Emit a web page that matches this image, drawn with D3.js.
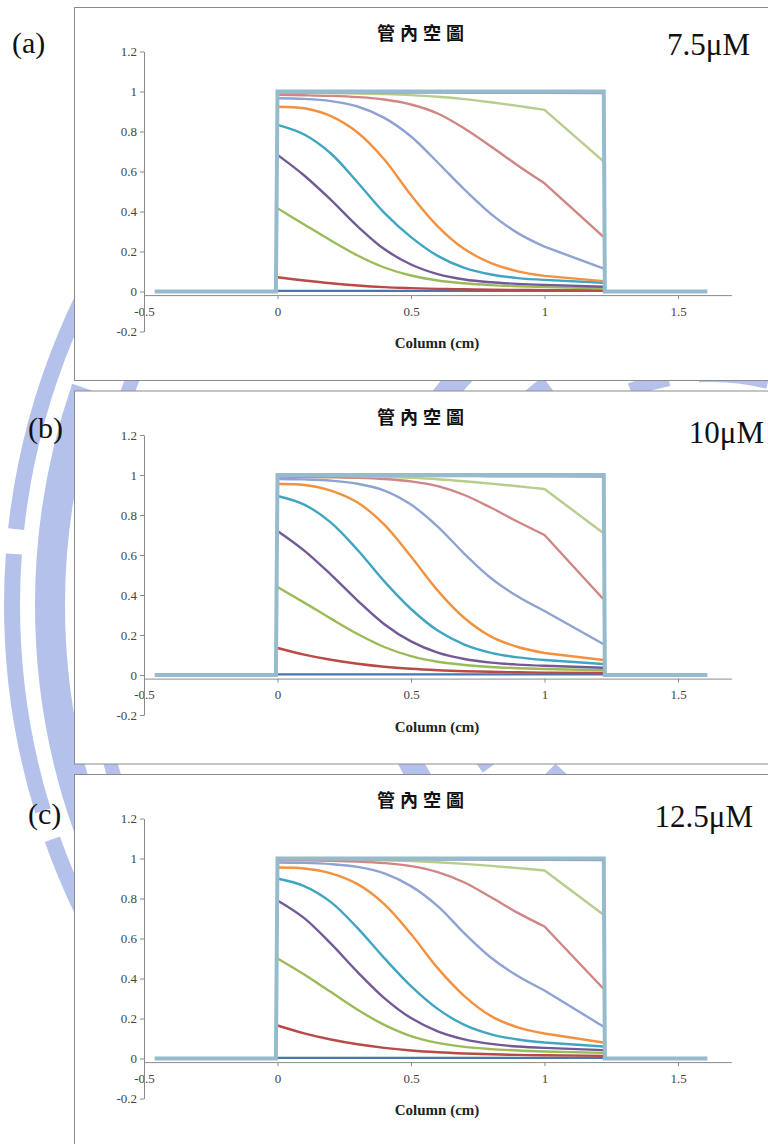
<!DOCTYPE html>
<html>
<head>
<meta charset="utf-8">
<script src="https://cdn.jsdelivr.net/npm/d3@7"></script>
<style>
  body { margin: 0; background: #fff; }
  svg { display: block; }
  .tick text { font-family: "Liberation Serif", serif; font-size: 13px; fill: #444; }
  .axis path, .axis line { stroke: #8a8a8a; }
</style>
</head>
<body>
<script>
/*
* DATA
*/

// positions along the column (cm) where the curves are sampled
const columnX = [0, 0.1, 0.2, 0.3, 0.4, 0.5, 0.6, 0.7, 0.8, 0.9, 1.0, 1.22];

// the filled-column step outline
const stepX = [-0.46, -0.006, 0, 1.222, 1.226, 1.61];
const stepY = [0, 0, 1, 1, 0, 0];

const seriesColors = ["#4a76ac", "#b84a47", "#9bbb59", "#735a97", "#3fa5c0",
  "#f2913f", "#8fa3d2", "#cf8684", "#b7cd8d", "#9a8fc2"];

const panelLabels = ["(a)", "(b)", "(c)"];
const concLabels = ["7.5\u03bcM", "10\u03bcM", "12.5\u03bcM"];
const xTicks = [-0.5, 0, 0.5, 1, 1.5];
const yTicks = [-0.2, 0, 0.2, 0.4, 0.6, 0.8, 1, 1.2];

/* (a) 7.5uM */
const curvesA = [
  [0.003, 0.003, 0.003, 0.003, 0.003, 0.003, 0.003, 0.003, 0.003, 0.003, 0.003, 0.003],
  [0.071, 0.055, 0.041, 0.030, 0.022, 0.017, 0.013, 0.011, 0.009, 0.008, 0.007, 0.005],
  [0.416, 0.335, 0.255, 0.180, 0.120, 0.080, 0.055, 0.041, 0.032, 0.026, 0.022, 0.016],
  [0.683, 0.580, 0.458, 0.326, 0.212, 0.135, 0.087, 0.060, 0.046, 0.038, 0.033, 0.024],
  [0.833, 0.785, 0.690, 0.545, 0.393, 0.272, 0.178, 0.118, 0.085, 0.067, 0.058, 0.044],
  [0.924, 0.916, 0.877, 0.795, 0.660, 0.482, 0.326, 0.212, 0.142, 0.101, 0.078, 0.052],
  [0.966, 0.963, 0.952, 0.925, 0.868, 0.775, 0.645, 0.510, 0.387, 0.292, 0.224, 0.116],
  [0.983, 0.981, 0.978, 0.972, 0.960, 0.935, 0.890, 0.815, 0.725, 0.630, 0.541, 0.274],
  [0.994, 0.993, 0.992, 0.990, 0.987, 0.982, 0.974, 0.962, 0.946, 0.928, 0.908, 0.652],
  [0.994, 0.994, 0.994, 0.994, 0.993, 0.993, 0.993, 0.992, 0.992, 0.991, 0.991, 0.990]
];

/* (b) 10uM */
const curvesB = [
  [0.003, 0.003, 0.003, 0.003, 0.003, 0.003, 0.003, 0.003, 0.003, 0.003, 0.003, 0.003],
  [0.135, 0.102, 0.076, 0.056, 0.041, 0.031, 0.024, 0.019, 0.016, 0.014, 0.012, 0.010],
  [0.440, 0.362, 0.282, 0.205, 0.140, 0.094, 0.066, 0.050, 0.040, 0.034, 0.030, 0.024],
  [0.720, 0.622, 0.502, 0.372, 0.254, 0.168, 0.112, 0.080, 0.062, 0.052, 0.046, 0.036],
  [0.895, 0.852, 0.762, 0.625, 0.468, 0.330, 0.222, 0.152, 0.111, 0.088, 0.075, 0.055],
  [0.955, 0.950, 0.922, 0.862, 0.752, 0.592, 0.422, 0.285, 0.192, 0.140, 0.110, 0.075],
  [0.980, 0.978, 0.972, 0.956, 0.922, 0.852, 0.742, 0.606, 0.484, 0.392, 0.320, 0.155],
  [0.992, 0.991, 0.989, 0.986, 0.980, 0.968, 0.944, 0.900, 0.836, 0.766, 0.700, 0.380],
  [0.998, 0.998, 0.996, 0.994, 0.991, 0.986, 0.979, 0.969, 0.957, 0.944, 0.930, 0.710],
  [0.995, 0.995, 0.995, 0.994, 0.994, 0.994, 0.993, 0.993, 0.992, 0.992, 0.991, 0.990]
];

/* (c) 12.5uM */
const curvesC = [
  [0.003, 0.003, 0.003, 0.003, 0.003, 0.003, 0.003, 0.003, 0.003, 0.003, 0.003, 0.003],
  [0.165, 0.126, 0.095, 0.071, 0.053, 0.040, 0.031, 0.025, 0.021, 0.018, 0.016, 0.013],
  [0.500, 0.420, 0.332, 0.244, 0.168, 0.112, 0.078, 0.058, 0.047, 0.040, 0.035, 0.028],
  [0.790, 0.702, 0.574, 0.432, 0.302, 0.202, 0.136, 0.096, 0.073, 0.060, 0.053, 0.042],
  [0.900, 0.862, 0.782, 0.652, 0.502, 0.362, 0.248, 0.168, 0.121, 0.095, 0.080, 0.060],
  [0.955, 0.950, 0.926, 0.872, 0.772, 0.622, 0.452, 0.312, 0.212, 0.156, 0.125, 0.080],
  [0.980, 0.978, 0.972, 0.958, 0.926, 0.862, 0.762, 0.626, 0.504, 0.412, 0.340, 0.160],
  [0.992, 0.991, 0.989, 0.985, 0.977, 0.962, 0.932, 0.880, 0.806, 0.728, 0.660, 0.350],
  [0.998, 0.998, 0.996, 0.994, 0.991, 0.987, 0.981, 0.973, 0.963, 0.952, 0.940, 0.720],
  [0.995, 0.995, 0.995, 0.994, 0.994, 0.994, 0.993, 0.993, 0.992, 0.992, 0.991, 0.990]
];

const panels = [curvesA, curvesB, curvesC];


/*
* SETUP
*/

const width = 768;
const height = 1144;
const panelStep = 383.5;

const svg = d3.select("body").append("svg")
  .attr("width", width)
  .attr("height", height);

const g = {
  watermark: svg.append("g").attr("id", "watermark"),
  panels: svg.append("g").attr("id", "panels")
};

const x = d3.scaleLinear().domain([-0.5, 1.7]).range([144, 731.4]);


/*
* WATERMARK (faint logo behind the charts)
*/
function drawWatermark() {
  svg.append("clipPath")
    .attr("id", "wmClip")
    .append("rect")
      .attr("x", 0)
      .attr("y", 215)
      .attr("width", width)
      .attr("height", 800);

  const rings = [
    { r: 700, w: 16, dash: "150 30 260 25 400 40" },
    { r: 662, w: 30, dash: "520 30 300 40" },
    { r: 622, w: 14, dash: "90 40 200 30 160 50" },
    { r: 340, w: 24, dash: "80 40 120 30 60 50" },
    { r: 275, w: 18, dash: "60 50 90 30" },
    { r: 230, w: 14, dash: "40 30 70 60" }
  ];

  g.watermark
    .attr("clip-path", "url(#wmClip)")
    .selectAll("circle")
    .data(rings)
    .join("circle")
      .attr("cx", 712)
      .attr("cy", 605)
      .attr("r", d => d.r)
      .attr("fill", "none")
      .attr("stroke", "#b4c2eb")
      .attr("stroke-width", d => d.w)
      .attr("stroke-dasharray", d => d.dash);
}


/*
* PANEL DRAWING
*/
function drawPanel(curves, i) {
  const off = i * panelStep;
  const panel = g.panels.append("g").attr("class", "panel");

  /* chart box */
  panel.append("rect")
    .attr("x", 74.5)
    .attr("y", 7.5 + off)
    .attr("width", 720)
    .attr("height", 373)
    .attr("fill", "#fff")
    .attr("stroke", "#8c8c8c")
    .attr("stroke-width", 1);

  const y = d3.scaleLinear().domain([-0.2, 1.2]).range([331.5 + off, 51.5 + off]);

  /* axes */
  panel.append("g")
    .attr("class", "axis")
    .attr("transform", translate(0, y(-0.018)))
    .call(d3.axisBottom(x)
      .tickValues(xTicks)
      .tickSize(4)
      .tickSizeOuter(0)
      .tickFormat(d => String(d)))
    .call(a => a.selectAll("text").attr("dy", "1.05em"));

  panel.append("g")
    .attr("class", "axis")
    .attr("transform", translate(144, 0))
    .call(d3.axisLeft(y)
      .tickValues(yTicks)
      .tickSize(4)
      .tickSizeOuter(0)
      .tickFormat(d => String(d)));

  /* curves: smooth through the column, straight last segment to the outlet */
  const smooth = d3.line()
    .x(d => x(d[0]))
    .y(d => y(d[1]))
    .curve(d3.curveCatmullRom.alpha(0.5));

  panel.selectAll("path.curve")
    .data(curves)
    .join("path")
      .attr("class", "curve")
      .attr("d", function (vals) {
        const pts = columnX.map((c, k) => [c, vals[k]]);
        const last = pts[pts.length - 1];
        return smooth(pts.slice(0, -1)) + "L" + x(last[0]) + "," + y(last[1]);
      })
      .attr("fill", "none")
      .attr("stroke", (d, k) => seriesColors[k])
      .attr("stroke-width", (d, k) => k === 9 ? 1.6 : 2.4)
      .attr("stroke-linejoin", "round");

  /* step outline */
  const step = d3.line()
    .x(d => x(d[0]))
    .y(d => y(d[1]));

  panel.append("path")
    .attr("d", step(stepX.map((s, k) => [s, stepY[k]])))
    .attr("fill", "none")
    .attr("stroke", "#95bbcc")
    .attr("stroke-width", 4)
    .attr("stroke-linejoin", "miter");

  /* texts */
  panel.append("text")
    .attr("x", 377)
    .attr("y", 40 + off)
    .attr("font-family", "Noto Sans CJK TC")
    .attr("font-weight", "bold")
    .attr("font-size", 18)
    .attr("letter-spacing", 5)
    .attr("fill", "#111")
    .text("管內空圖");

  panel.append("text")
    .attr("x", 437)
    .attr("y", 348 + off)
    .attr("text-anchor", "middle")
    .attr("font-family", "Liberation Serif")
    .attr("font-weight", "bold")
    .attr("font-size", 15)
    .attr("fill", "#222")
    .text("Column (cm)");

  g.panels.append("text")
    .attr("x", [12, 28, 28][i])
    .attr("y", 53 + [0, 385, 771][i])
    .attr("font-family", "Liberation Serif")
    .attr("font-size", 30)
    .attr("fill", "#111")
    .text(panelLabels[i]);

  g.panels.append("text")
    .attr("x", [750, 764, 753][i])
    .attr("y", 55 + [0, 388, 772][i])
    .attr("text-anchor", "end")
    .attr("font-family", "Liberation Serif")
    .attr("font-size", 31)
    .attr("fill", "#111")
    .text(concLabels[i]);
}

drawWatermark();
panels.forEach(drawPanel);


/*
* HELPER FUNCTIONS
*/
function translate(x, y) {
  return 'translate(' + String(x) + ',' + String(y) + ')';
}
</script>
</body>
</html>
